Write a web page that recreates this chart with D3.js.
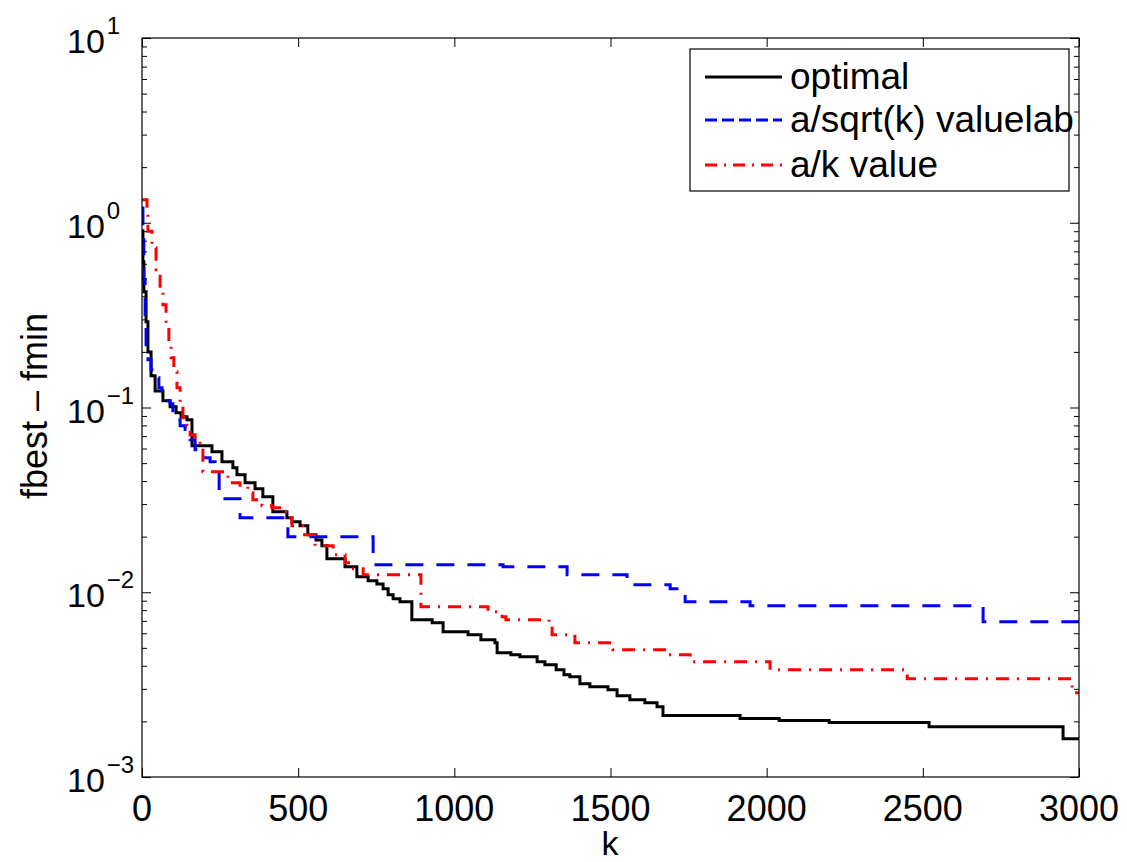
<!DOCTYPE html>
<meta charset="utf-8">
<body style="margin:0;background:#fff">
<div id="chart"></div>
<style>
text { font-family: 'Liberation Sans', Arial, sans-serif; fill: #000; }
.tick line { stroke: #000; }
</style>
<script src="https://d3js.org/d3.v7.min.js"></script>
<script>
const width = 1127, height = 862;
const margin = {left: 142, top: 38, right: 1079, bottom: 777};

// data: iteration k and fbest - fmin (step curves)
const optimalK = [0, 3, 6, 13, 19, 29, 42, 67, 90, 109, 125, 144, 160, 224, 256, 291, 304, 330, 362, 387, 419, 464, 480, 506, 531, 557, 576, 592, 650, 688, 724, 752, 772, 788, 804, 826, 864, 929, 964, 1044, 1085, 1130, 1137, 1181, 1210, 1265, 1290, 1326, 1351, 1370, 1402, 1434, 1492, 1521, 1562, 1610, 1649, 1668, 1915, 2040, 2200, 2520, 2949, 3000];
const optimalF = [0.905, 0.615, 0.423, 0.291, 0.2, 0.1485, 0.123, 0.1088, 0.101, 0.0937, 0.0891, 0.0859, 0.0621, 0.0576, 0.0508, 0.0472, 0.0432, 0.0391, 0.0363, 0.0329, 0.0273, 0.0253, 0.0241, 0.0229, 0.0205, 0.0192, 0.01786, 0.01518, 0.01374, 0.01213, 0.01154, 0.0111, 0.01045, 0.0097, 0.00923, 0.00889, 0.0071, 0.00684, 0.00611, 0.00589, 0.00553, 0.00533, 0.0047, 0.00459, 0.00448, 0.00421, 0.00405, 0.00381, 0.00358, 0.00349, 0.0032, 0.00308, 0.00297, 0.00275, 0.00262, 0.00252, 0.0024, 0.00215, 0.00207, 0.00202, 0.00197, 0.00187, 0.00161, 0.00161];

const sqrtK = [0, 3, 6, 10, 13, 19, 29, 42, 54, 64, 90, 99, 122, 138, 154, 170, 192, 218, 234, 247, 314, 467, 740, 1156, 1361, 1553, 1691, 1739, 1947, 2693, 3000];
const sqrtF = [1.2, 0.809, 0.491, 0.291, 0.2186, 0.1813, 0.16, 0.1449, 0.128, 0.1088, 0.1048, 0.0859, 0.0797, 0.0739, 0.0669, 0.059, 0.0535, 0.0508, 0.046, 0.0321, 0.0253, 0.01997, 0.01409, 0.01374, 0.01244, 0.01098, 0.01045, 0.00889, 0.00845, 0.00692, 0.00692];

const kvalK = [0, 16, 19, 32, 45, 58, 67, 77, 86, 93, 102, 112, 122, 131, 144, 154, 170, 186, 195, 275, 314, 339, 355, 384, 416, 451, 461, 480, 515, 554, 612, 650, 669, 708, 893, 1108, 1153, 1165, 1303, 1313, 1386, 1508, 1681, 1755, 2011, 2450, 2978, 3000];
const kvalF = [1.332, 1.105, 0.9, 0.732, 0.557, 0.423, 0.36, 0.2805, 0.224, 0.186, 0.156, 0.128, 0.1035, 0.088, 0.0797, 0.0712, 0.0669, 0.0621, 0.0449, 0.0391, 0.0372, 0.0346, 0.0317, 0.0294, 0.0287, 0.0273, 0.0253, 0.0229, 0.0205, 0.01786, 0.01596, 0.01445, 0.0134, 0.01244, 0.00835, 0.00784, 0.00737, 0.0071, 0.00684, 0.00589, 0.00533, 0.00489, 0.00459, 0.00421, 0.00381, 0.0034, 0.00286, 0.00286];

const xTicks = [0, 500, 1000, 1500, 2000, 2500, 3000];
const yExponents = [1, 0, -1, -2, -3];
const legendLabels = ["optimal", "a/sqrt(k) valuelab", "a/k value"];

const series = [
	{k: optimalK, f: optimalF, color: "#000", dash: null, legendDash: null},
	{k: sqrtK, f: sqrtF, color: "#0000ff", dash: "18,13", legendDash: "12,5"},
	{k: kvalK, f: kvalF, color: "#ff0000", dash: "13,8,2,8", legendDash: "12,7,2,7"}
];

const svg = d3.select("#chart").append("svg")
	.attr("width", width)
	.attr("height", height);

const x = d3.scaleLinear().domain([0, 3000]).range([margin.left, margin.right]);
const y = d3.scaleLog().domain([1e-3, 1e1]).range([margin.bottom, margin.top]);

svg.append("clipPath").attr("id", "clip")
  .append("rect")
	.attr("x", margin.left).attr("y", margin.top)
	.attr("width", margin.right - margin.left)
	.attr("height", margin.bottom - margin.top);

// curves
const line = d3.line()
	.x(d => x(d[0]))
	.y(d => y(d[1]))
	.curve(d3.curveStepAfter);

series.forEach(function(s) {
	const pts = s.k.map((k, i) => [k, s.f[i]]);
	svg.append("path")
		.attr("clip-path", "url(#clip)")
		.attr("d", line(pts))
		.attr("fill", "none")
		.attr("stroke", s.color)
		.attr("stroke-width", 3)
		.attr("stroke-dasharray", s.dash);
});

// minor log ticks
const minorTicks = [];
for (let e = -3; e < 1; e++) {
	for (let m = 2; m <= 9; m++) minorTicks.push(m * Math.pow(10, e));
}
const majorY = yExponents.map(e => Math.pow(10, e));

// axes (ticks inward, on all four sides)
svg.append("g").attr("transform", "translate(0," + margin.bottom + ")")
	.call(d3.axisBottom(x).tickValues(xTicks).tickSize(-9).tickFormat(""));
svg.append("g").attr("transform", "translate(0," + margin.top + ")")
	.call(d3.axisTop(x).tickValues(xTicks).tickSize(-9).tickFormat(""));
svg.append("g").attr("transform", "translate(" + margin.left + ",0)")
	.call(d3.axisLeft(y).tickValues(majorY).tickSize(-9).tickFormat(""));
svg.append("g").attr("transform", "translate(" + margin.right + ",0)")
	.call(d3.axisRight(y).tickValues(majorY).tickSize(-9).tickFormat(""));
svg.append("g").attr("transform", "translate(" + margin.left + ",0)")
	.call(d3.axisLeft(y).tickValues(minorTicks).tickSize(-5).tickFormat(""));
svg.append("g").attr("transform", "translate(" + margin.right + ",0)")
	.call(d3.axisRight(y).tickValues(minorTicks).tickSize(-5).tickFormat(""));
svg.selectAll(".domain").remove();

svg.append("rect")
	.attr("x", margin.left).attr("y", margin.top)
	.attr("width", margin.right - margin.left)
	.attr("height", margin.bottom - margin.top)
	.attr("fill", "none")
	.attr("stroke", "#000")
	.attr("stroke-width", 1.2);

// tick labels
svg.selectAll(".xlab")
	.data(xTicks)
  .enter().append("text")
	.attr("x", d => x(d))
	.attr("y", 821)
	.attr("text-anchor", "middle")
	.style("font-size", "36px")
	.text(d => d);

yExponents.forEach(function(e) {
	const py = y(Math.pow(10, e));
	const t = svg.append("text")
		.attr("x", 67)
		.attr("y", py + 15)
		.style("font-size", "34px");
	t.append("tspan").text("10");
	t.append("tspan")
		.attr("dx", 2)
		.attr("y", py - 4)
		.style("font-size", "24px")
		.text(e < 0 ? "\u2212" + (-e) : e);
});

// axis titles
svg.append("text")
	.attr("x", 610).attr("y", 855)
	.attr("text-anchor", "middle")
	.style("font-size", "34px")
	.text("k");

svg.append("text")
	.attr("transform", "translate(47,406) rotate(-90)")
	.attr("text-anchor", "middle")
	.style("font-size", "36px")
	.text("fbest \u2013 fmin");

// legend
const legend = svg.append("g");
legend.append("rect")
	.attr("x", 690).attr("y", 49)
	.attr("width", 379).attr("height", 142)
	.attr("fill", "#fff")
	.attr("stroke", "#000")
	.attr("stroke-width", 1.2);

const rowY = [77, 120, 165];
series.forEach(function(s, i) {
	legend.append("line")
		.attr("x1", 705).attr("x2", 782)
		.attr("y1", rowY[i]).attr("y2", rowY[i])
		.attr("stroke", s.color)
		.attr("stroke-width", 3)
		.attr("stroke-dasharray", s.legendDash);
	legend.append("text")
		.attr("x", 790)
		.attr("y", rowY[i] + 12)
		.style("font-size", "37px")
		.text(legendLabels[i]);
});
</script>
</body>
